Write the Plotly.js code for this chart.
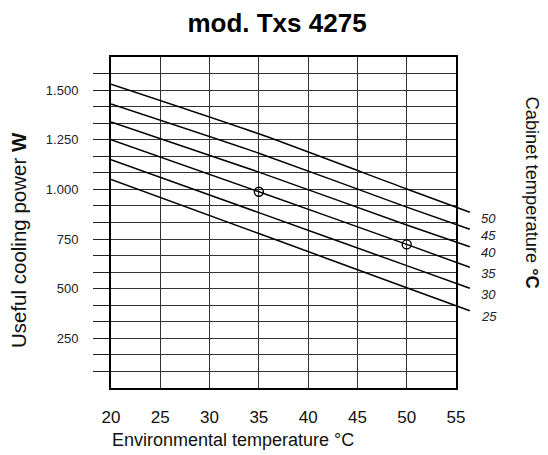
<!DOCTYPE html>
<html><head><meta charset="utf-8">
<script src="https://cdn.plot.ly/plotly-3.0.1.min.js"></script>
<style>html,body{margin:0;padding:0;background:#fff}#chart{width:548px;height:455px}</style>
</head><body><div id="chart"></div>
<script>
// Environmental temperature (°C) sample points
const envTemp = [20, 35, 50, 56.4];
// Cabinet temperature curve labels
const cabinetTemps = ['50', '45', '40', '35', '30', '25'];
// Useful cooling power (W) per cabinet temperature
const power50 = [1530, 1280, 1002, 885];
const power45 = [1430, 1182, 911, 799];
const power40 = [1340, 1087, 821, 711];
const power35 = [1250, 988, 723, 608];
const power30 = [1150, 883, 616, 502];
const power25 = [1050, 778, 505, 389];
// Marked operating points
const markerTemp = [35, 50];
const markerPower = [988, 723];
// Axis ticks
const xTickVals = [20, 25, 30, 35, 40, 45, 50, 55];
const xTickText = ['20', '25', '30', '35', '40', '45', '50', '55'];
const yTickVals = [83.33, 166.67, 250, 333.33, 416.67, 500, 583.33, 666.67, 750, 833.33, 916.67, 1000, 1083.33, 1166.67, 1250, 1333.33, 1416.67, 1500, 1583.33];
const yTickText = ['', '', '250', '', '', '500', '', '', '750', '', '', '1.000', '', '', '1.250', '', '', '1.500', ''];

const X_RANGE = [20, 55];
const Y_RANGE = [0, 1666.67];
const series = [power50, power45, power40, power35, power30, power25];
const FONT = 'Liberation Sans, Arial, Helvetica, sans-serif';

// Geometry: grid frame is 345 px wide; an invisible, wider overlay axis lets curves run past the frame.
const W = 548, H = 455, ML = 111, MR = 52, MT = 57, MB = 67;
const plotW = W - ML - MR;           // full overlay width
const gridW = 345;                   // framed grid width
const x2Max = X_RANGE[0] + (X_RANGE[1] - X_RANGE[0]) * plotW / gridW;

const traces = series.map((vals) => ({
  type: 'scatter', mode: 'lines', x: envTemp, y: vals, xaxis: 'x2', yaxis: 'y2',
  line: {color: '#000', width: 1.5, shape: 'spline', smoothing: 0.6}, hoverinfo: 'skip'
}));
traces.push({
  type: 'scatter', mode: 'markers', x: markerTemp, y: markerPower, xaxis: 'x', yaxis: 'y',
  marker: {symbol: 'circle-open', size: 9, color: '#000', line: {width: 1.4, color: '#000'}},
  hoverinfo: 'skip', cliponaxis: false
});

const annotations = series.map((vals, i) => ({
  x: envTemp[envTemp.length - 1], y: vals[vals.length - 1], xref: 'x2', yref: 'y2',
  text: '<i>' + cabinetTemps[i] + '</i>', showarrow: false,
  xanchor: 'center', yanchor: 'middle', xshift: 19, yshift: -6,
  font: {family: FONT, size: 13, color: '#222'}
}));
annotations.push({
  xref: 'paper', yref: 'paper', x: 122 / plotW, y: -52 / (H - MT - MB), xanchor: 'center', yanchor: 'middle',
  text: 'Environmental temperature °C', showarrow: false,
  font: {family: FONT, size: 18, color: '#111'}
});
annotations.push({
  xref: 'paper', yref: 'paper', x: -93 / plotW, y: 0.447, xanchor: 'center', yanchor: 'middle',
  text: 'Useful cooling power <b>W</b>', showarrow: false, textangle: -90,
  font: {family: FONT, size: 20.5, color: '#111'}
});
annotations.push({
  xref: 'paper', yref: 'paper', x: 421 / plotW, y: 0.5906, xanchor: 'center', yanchor: 'middle',
  text: 'Cabinet temperature <b>°C</b>', showarrow: false, textangle: 90,
  font: {family: FONT, size: 18.3, color: '#111'}
});

const layout = {
  width: W, height: H,
  margin: {l: ML, r: MR, t: MT, b: MB},
  paper_bgcolor: '#fff', plot_bgcolor: 'rgba(0,0,0,0)',
  showlegend: false, hovermode: false,
  title: {text: '<b>mod. Txs 4275</b>', x: 0.5055, xref: 'container', xanchor: 'center',
          y: 0.9495, yref: 'container', yanchor: 'middle',
          font: {family: FONT, size: 26, color: '#000'}},
  xaxis: {
    domain: [0, gridW / plotW], anchor: 'y',
    range: X_RANGE, tickmode: 'array', tickvals: xTickVals, ticktext: xTickText,
    ticks: '', ticklabelstandoff: 13, showgrid: true, gridcolor: '#333', gridwidth: 1,
    showline: true, linecolor: '#000', linewidth: 2, mirror: true, zeroline: false,
    tickfont: {family: FONT, size: 17, color: '#111'}
  },
  yaxis: {
    domain: [0, 1], anchor: 'x',
    range: Y_RANGE, tickmode: 'array', tickvals: yTickVals, ticktext: yTickText,
    ticks: 'outside', ticklen: 16, tickwidth: 1, tickcolor: '#222', ticklabelstandoff: 12,
    showgrid: true, gridcolor: '#333', gridwidth: 1,
    showline: true, linecolor: '#000', linewidth: 2, mirror: true, zeroline: false,
    tickfont: {family: FONT, size: 13, color: '#222'}
  },
  xaxis2: {domain: [0, 1], anchor: 'y2', range: [X_RANGE[0], x2Max], visible: false, showgrid: false, zeroline: false},
  yaxis2: {domain: [0, 1], anchor: 'x2', range: Y_RANGE, visible: false, showgrid: false, zeroline: false},
  annotations: annotations
};

Plotly.newPlot('chart', traces, layout, {staticPlot: true, displayModeBar: false});
</script>
</body></html>
